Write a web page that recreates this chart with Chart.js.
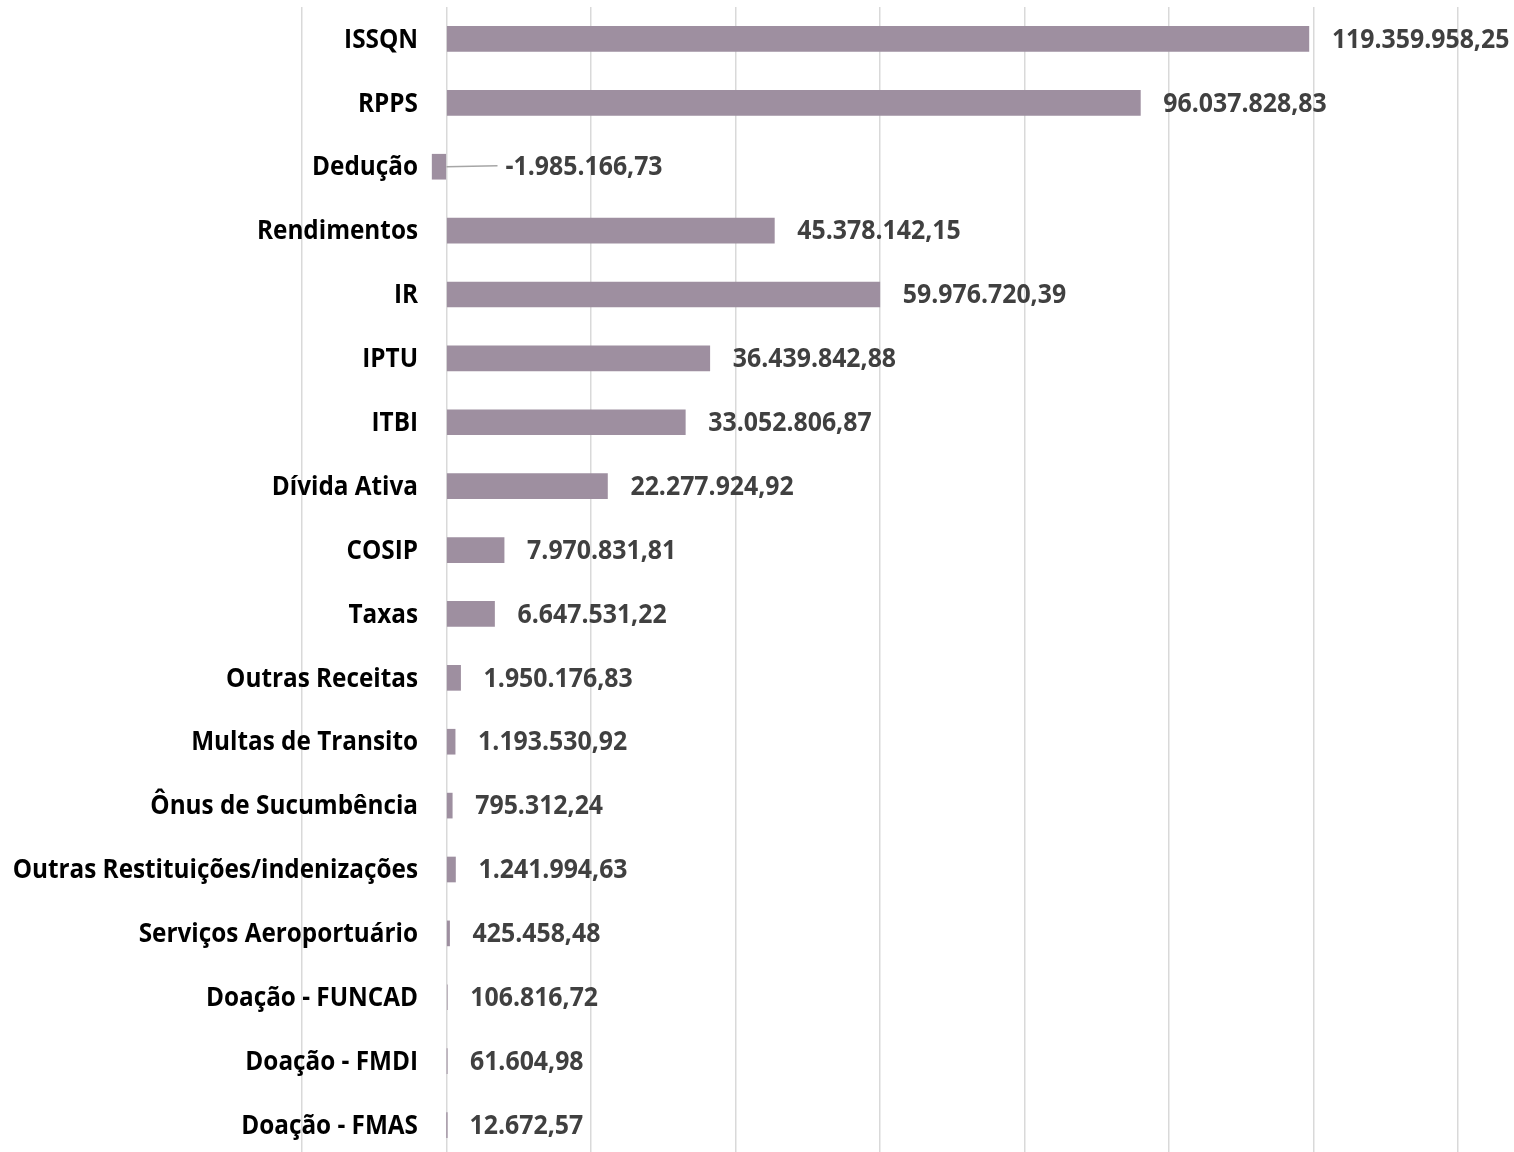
<!DOCTYPE html>
<html>
<head>
<meta charset="utf-8">
<script src="https://cdn.jsdelivr.net/npm/chart.js@4.4.1/dist/chart.umd.min.js"></script>
<style>
  html, body { margin: 0; padding: 0; background: #fff; overflow: hidden; }
  #wrap { position: relative; width: 1514px; height: 1157px; }
</style>
</head>
<body>
<div id="wrap"><canvas id="c"></canvas></div>
<script>
const categories = [
  "ISSQN", "RPPS", "Dedução", "Rendimentos", "IR", "IPTU", "ITBI", "Dívida Ativa",
  "COSIP", "Taxas", "Outras Receitas", "Multas de Transito", "Ônus de Sucumbência",
  "Outras Restituições/indenizações", "Serviços Aeroportuário", "Doação - FUNCAD",
  "Doação - FMDI", "Doação - FMAS"
];
const values = [
  119359958.25, 96037828.83, -1985166.73, 45378142.15, 59976720.39, 36439842.88,
  33052806.87, 22277924.92, 7970831.81, 6647531.22, 1950176.83, 1193530.92,
  795312.24, 1241994.63, 425458.48, 106816.72, 61604.98, 12672.57
];
const axisMin = -20000000;
const axisMax = 140000000;
const axisStep = 20000000;

function fmt(v) {
  const neg = v < 0;
  const s = Math.abs(v).toFixed(2);
  let [ip, dp] = s.split(".");
  ip = ip.replace(/\B(?=(\d{3})+(?!\d))/g, ".");
  return (neg ? "-" : "") + ip + "," + dp;
}

const FONT = "'Open Sans'";

function drawText(ctx, text, x, y, align, sx) {
  // condensed, taller glyphs to mimic the original face
  ctx.save();
  ctx.translate(x, y);
  ctx.scale(sx, 1);
  ctx.textAlign = align;
  ctx.fillText(text, 0, 0);
  ctx.restore();
}

const labelsPlugin = {
  id: "customLabels",
  afterDatasetsDraw(chart) {
    const ctx = chart.ctx;
    const meta = chart.getDatasetMeta(0);
    const xs = chart.scales.x;
    const ys = chart.scales.y;
    const zero = xs.getPixelForValue(0);
    ctx.save();
    ctx.textBaseline = "middle";
    ctx.font = "bold 27px " + FONT;
    // category labels
    ctx.fillStyle = "#000000";
    categories.forEach((c, i) => {
      drawText(ctx, c, 418, ys.getPixelForValue(i) + 1, "right", 0.9);
    });
    // value labels
    ctx.fillStyle = "#404040";
    meta.data.forEach((bar, i) => {
      const v = values[i];
      const y = bar.y + 1;
      if (v < 0) {
        const lx = zero + 59;
        ctx.strokeStyle = "#a6a6a6";
        ctx.lineWidth = 1.5;
        ctx.beginPath();
        ctx.moveTo(zero, bar.y);
        ctx.lineTo(lx - 8, bar.y - 1);
        ctx.stroke();
        drawText(ctx, fmt(v), lx, y, "left", 0.92);
      } else {
        drawText(ctx, fmt(v), Math.max(bar.x, zero) + 23, y, "left", 0.92);
      }
    });
    ctx.restore();
  }
};

new Chart(document.getElementById("c"), {
  type: "bar",
  data: {
    labels: categories,
    datasets: [{
      data: values,
      backgroundColor: "#9e8fa0",
      borderWidth: 0,
      barThickness: 25
    }]
  },
  options: {
    indexAxis: "y",
    responsive: true,
    maintainAspectRatio: false,
    animation: false,
    layout: { padding: { left: 302, right: 56, top: 7, bottom: 0 } },
    plugins: { legend: { display: false }, tooltip: { enabled: false } },
    scales: {
      x: {
        min: axisMin, max: axisMax,
        ticks: { display: false, stepSize: axisStep },
        grid: { color: "#d9d9d9", lineWidth: 1.5, drawTicks: false },
        border: { display: false }
      },
      y: {
        ticks: { display: false },
        grid: { display: false, drawTicks: false },
        border: { display: false }
      }
    }
  },
  plugins: [labelsPlugin]
});
</script>
</body>
</html>
